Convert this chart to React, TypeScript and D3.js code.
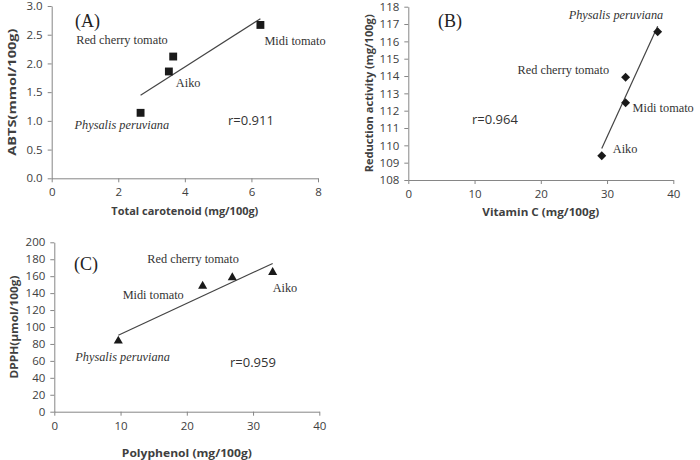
import React, { useEffect, useRef } from "react";
import * as d3 from "d3";

const width = 700;
const height = 460;

const varieties = ["Physalis peruviana", "Aiko", "Red cherry tomato", "Midi tomato"];

// (A) total carotenoid vs ABTS
const carotenoid = [2.67, 3.52, 3.65, 6.27];
const abts = [1.14, 1.86, 2.12, 2.67];
const carotenoidTicks = [0, 2, 4, 6, 8];
const abtsTicks = [0, 0.5, 1.0, 1.5, 2.0, 2.5, 3.0];

// (B) vitamin C vs reduction activity
const vitaminC = [37.64, 29.2, 32.8, 32.8];
const reduction = [116.56, 109.4, 113.93, 112.46];
const vitaminCTicks = [0, 10, 20, 30, 40];
const reductionTicks = [108, 109, 110, 111, 112, 113, 114, 115, 116, 117, 118];

// (C) polyphenol vs DPPH
const polyphenol = [9.66, 32.96, 26.87, 22.39];
const dpph = [83.5, 164.6, 158.3, 148.4];
const polyphenolTicks = [0, 10, 20, 30, 40];
const dpphTicks = [0, 20, 40, 60, 80, 100, 120, 140, 160, 180, 200];

const coefficients = ["r=0.911", "r=0.964", "r=0.959"];

const sans = "'Open Sans', sans-serif";
const serif = "'Liberation Serif', 'Times New Roman', serif";
const axisColor = "#868686";
const textColor = "#404040";

// least-squares line through the points
function fit(xs: number[], ys: number[]) {
  const mx = d3.mean(xs) as number;
  const my = d3.mean(ys) as number;
  const sxy = d3.sum(xs, (v, i) => (v - mx) * (ys[i] - my));
  const sxx = d3.sum(xs, (v) => (v - mx) ** 2);
  const b = sxy / sxx;
  return (v: number) => my + b * (v - mx);
}

const panels = [
  {
    tag: "(A)",
    left: 51.7, right: 318, top: 6, bottom: 178.3,
    xs: carotenoid, ys: abts,
    xTicks: carotenoidTicks, yTicks: abtsTicks,
    xFormat: d3.format("d"), yFormat: d3.format(".1f"),
    marker: "square",
    r: coefficients[0], rPos: [228, 125], tagPos: [75, 27],
    offsets: [[-66, 16], [7, 16], [-97, -13], [4, 20]],
    xTitle: "Total carotenoid (mg/100g)", xTitleW: 147, xTitleY: 215,
    yTitle: "ABTS(mmol/100g)", yTitleW: 127, yTitleX: 16,
  },
  {
    tag: "(B)",
    left: 408.3, right: 673.3, top: 6.7, bottom: 180,
    xs: vitaminC, ys: reduction,
    xTicks: vitaminCTicks, yTicks: reductionTicks,
    xFormat: d3.format("d"), yFormat: d3.format("d"),
    marker: "diamond",
    r: coefficients[1], rPos: [472, 124], tagPos: [438, 27],
    offsets: [[-89, -13], [11, -3], [-108, -3], [7, 9]],
    xTitle: "Vitamin C (mg/100g)", xTitleW: 117, xTitleY: 216,
    yTitle: "Reduction activity (mg/100g)", yTitleW: 158, yTitleX: 373,
  },
  {
    tag: "(C)",
    left: 54.3, right: 319.3, top: 242.3, bottom: 411.7,
    xs: polyphenol, ys: dpph,
    xTicks: polyphenolTicks, yTicks: dpphTicks,
    xFormat: d3.format("d"), yFormat: d3.format("d"),
    marker: "triangle",
    r: coefficients[2], rPos: [230, 367], tagPos: [74, 270],
    offsets: [[-43, 20], [0, 20], [-85, -15], [-80, 13]],
    xTitle: "Polyphenol (mg/100g)", xTitleW: 130, xTitleY: 457,
    yTitle: "DPPH(\u03bcmol/100g)", yTitleW: 103, yTitleX: 18,
  },
];

function markerPath(kind: string) {
  if (kind === "triangle") return d3.symbol().type(d3.symbolTriangle).size(36)() as string;
  if (kind === "diamond") return d3.symbol().type(d3.symbolSquare).size(40)() as string;
  return d3.symbol().type(d3.symbolSquare).size(62)() as string;
}

function Panel({ p }: { p: (typeof panels)[number] }) {
  const xRef = useRef<SVGGElement>(null);
  const yRef = useRef<SVGGElement>(null);

  const x = d3.scaleLinear().domain(d3.extent(p.xTicks) as [number, number]).range([p.left, p.right]);
  const y = d3.scaleLinear().domain(d3.extent(p.yTicks) as [number, number]).range([p.bottom, p.top]);
  const line = fit(p.xs, p.ys);
  const [x0, x1] = d3.extent(p.xs) as [number, number];

  useEffect(() => {
    const gx = d3.select(xRef.current!);
    gx.call(
      d3.axisBottom(x).tickValues(p.xTicks).tickFormat(p.xFormat as any).tickSize(4).tickSizeOuter(0).tickPadding(6)
    );
    const gy = d3.select(yRef.current!);
    gy.call(
      d3.axisLeft(y).tickValues(p.yTicks).tickFormat(p.yFormat as any).tickSize(4).tickSizeOuter(0).tickPadding(5)
    );
    [gx, gy].forEach((g) => {
      g.select(".domain").attr("stroke", axisColor);
      g.selectAll(".tick line").attr("stroke", axisColor);
      g.selectAll(".tick text")
        .attr("fill", textColor)
        .attr("font-family", sans)
        .attr("font-size", 11.5);
    });
  });

  const midX = (p.left + p.right) / 2;
  const midY = (p.top + p.bottom) / 2;

  return (
    <g>
      <g ref={xRef} transform={`translate(0,${p.bottom})`} />
      <g ref={yRef} transform={`translate(${p.left},0)`} />
      <line
        x1={x(x0)} y1={y(line(x0))} x2={x(x1)} y2={y(line(x1))}
        stroke="#444" strokeWidth={1.2}
      />
      {p.xs.map((v, i) => (
        <path
          key={i}
          d={markerPath(p.marker)}
          transform={`translate(${x(v)},${y(p.ys[i])})${p.marker === "diamond" ? " rotate(45)" : ""}`}
          fill="#1a1a1a"
        />
      ))}
      {varieties.map((name, i) => (
        <text
          key={name}
          x={x(p.xs[i]) + p.offsets[i][0]}
          y={y(p.ys[i]) + p.offsets[i][1]}
          fontFamily={serif}
          fontSize={12.3}
          fontStyle={i === 0 ? "italic" : "normal"}
          fill="#333"
        >
          {name}
        </text>
      ))}
      <text x={p.tagPos[0]} y={p.tagPos[1]} fontFamily={serif} fontSize={18} fill="#222">
        {p.tag}
      </text>
      <text x={p.rPos[0]} y={p.rPos[1]} fontFamily={sans} fontSize={13} fill="#333">
        {p.r}
      </text>
      <text
        x={midX} y={p.xTitleY} textAnchor="middle" fontFamily={sans} fontWeight="bold"
        fontSize={11} fill={textColor} textLength={p.xTitleW} lengthAdjust="spacingAndGlyphs"
      >
        {p.xTitle}
      </text>
      <text
        transform={`translate(${p.yTitleX},${midY}) rotate(-90)`} textAnchor="middle" fontFamily={sans}
        fontWeight="bold" fontSize={11} fill={textColor} textLength={p.yTitleW} lengthAdjust="spacingAndGlyphs"
      >
        {p.yTitle}
      </text>
    </g>
  );
}

export default function App() {
  return (
    <svg width={width} height={height} style={{ position: "absolute", left: 0, top: 0, background: "#fff" }}>
      <rect width={width} height={height} fill="#fff" />
      {panels.map((p) => (
        <Panel key={p.tag} p={p} />
      ))}
    </svg>
  );
}
